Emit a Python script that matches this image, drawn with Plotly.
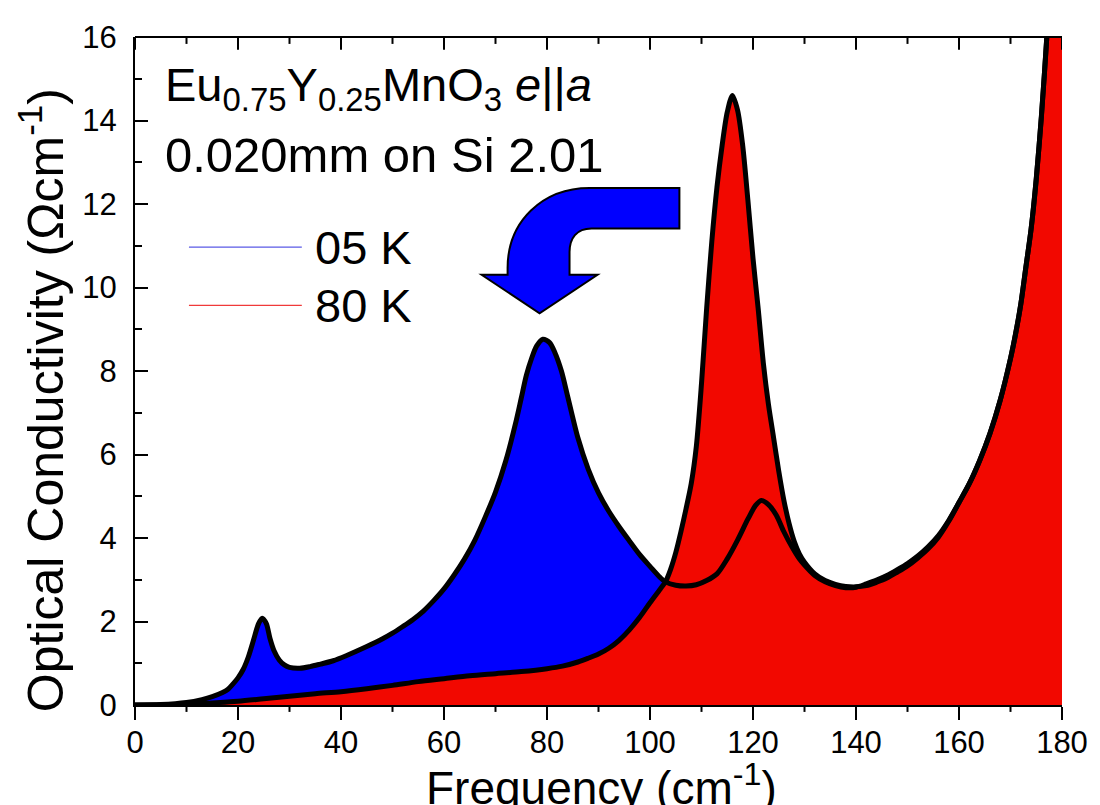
import plotly.graph_objects as go

# ---------------- data ----------------
freq_05K = [0, 5, 10, 13, 15, 17, 18, 19, 20, 21, 22, 23, 24, 24.7, 25.5, 26.2, 27, 28, 29, 30,
            32, 34, 36, 38.5, 41, 45, 48, 50, 52, 54, 56, 58, 60, 62, 64, 66, 68, 70, 72, 74,
            75, 76, 77, 78, 79.2, 80.5, 81.5, 82.8, 84, 86, 88, 90, 92, 94, 96, 98, 100, 102,
            103, 105, 107, 109, 111, 113, 115, 117, 119, 120.5, 121.6, 123, 124.5, 126, 127.5,
            129, 130, 132, 134, 136, 138, 140, 142, 144, 146, 148, 150, 152, 154, 156, 158, 160,
            162, 164, 166, 168, 170, 171, 172, 173, 174, 175, 176, 177, 178, 179, 180]
sigma_05K = [0.0, 0.01, 0.06, 0.13, 0.2, 0.3, 0.37, 0.5, 0.65, 0.85, 1.15, 1.55, 1.95, 2.08, 1.95,
             1.6, 1.3, 1.08, 0.96, 0.9, 0.88, 0.92, 0.98, 1.06, 1.18, 1.4, 1.58, 1.72, 1.88, 2.05,
             2.25, 2.5, 2.78, 3.12, 3.5, 3.95, 4.5, 5.1, 5.85, 6.8, 7.35, 7.9, 8.3, 8.6, 8.76,
             8.68, 8.45, 8.0, 7.4, 6.4, 5.65, 5.08, 4.64, 4.27, 3.93, 3.6, 3.32, 3.05, 2.95, 2.87,
             2.85, 2.88, 2.98, 3.14, 3.5, 3.95, 4.45, 4.78, 4.9, 4.8, 4.55, 4.15, 3.8, 3.5, 3.35,
             3.1, 2.95, 2.86, 2.81, 2.82, 2.9, 2.99, 3.1, 3.24, 3.39, 3.57, 3.79, 4.06, 4.42, 4.85,
             5.3, 5.85, 6.5, 7.3, 8.3, 8.9, 9.6, 10.5, 11.4, 12.6, 14.1, 15.9, 18.0, 20.5, 23.0]

freq_80K = [0, 10, 15, 20, 25, 30, 35, 40, 45, 50, 55, 60, 65, 70, 75, 80, 83, 86, 88, 90, 92, 94,
            96, 98, 100, 102, 103, 104, 105, 106, 107, 108, 109, 110, 111, 112, 113, 114, 115, 116,
            117, 118, 119, 120, 121, 122, 123, 124, 125, 126, 127, 128, 129, 130, 132, 134, 136,
            138, 140, 142, 144, 146, 148, 150, 152, 154, 156, 158, 160, 162, 164, 166, 168, 170,
            171, 172, 173, 174, 175, 176, 177, 178, 179, 180]
sigma_80K = [0.0, 0.02, 0.05, 0.09, 0.15, 0.21, 0.27, 0.32, 0.39, 0.47, 0.56, 0.63, 0.7, 0.75, 0.8,
             0.87, 0.93, 1.03, 1.12, 1.22, 1.36, 1.55, 1.8, 2.1, 2.45, 2.78, 2.95, 3.25, 3.65, 4.15,
             4.7, 5.3, 6.2, 7.7, 9.5, 11.1, 12.4, 13.4, 14.2, 14.6, 14.25, 13.4, 12.1, 10.7, 9.5,
             8.2, 7.2, 6.4, 5.6, 4.9, 4.35, 3.92, 3.62, 3.42, 3.14, 2.98, 2.89, 2.84, 2.83, 2.86,
             2.94, 3.04, 3.18, 3.33, 3.52, 3.74, 4.02, 4.4, 4.85, 5.3, 5.85, 6.5, 7.3, 8.3, 8.9,
             9.6, 10.5, 11.4, 12.6, 14.1, 15.9, 18.0, 20.5, 23.0]

series_names = ["05 K", "80 K"]
x_tick_vals = [0, 20, 40, 60, 80, 100, 120, 140, 160, 180]
x_minor_vals = [10, 30, 50, 70, 90, 110, 130, 150, 170]
y_tick_vals = [0, 2, 4, 6, 8, 10, 12, 14, 16]

# ---------------- styling ----------------
FONT = "Liberation Sans, Arial, Helvetica, sans-serif"
BLUE = "#0000FF"
RED = "#F20800"
OFF = 8                      # page body margin of the browser
W, H = 1100 - OFF, 805 - OFF
L, R, T, B = 135 - OFF, 37, 28 - OFF, 100
PW, PH = W - L - R, H - T - B


def px(xp):
    """screen x (reference pixels) -> paper x"""
    return (xp - OFF - L) / PW


def py(yp):
    """screen y (reference pixels) -> paper y"""
    return (H - B - (yp - OFF)) / PH


fig = go.Figure()

SPL = dict(shape="spline", smoothing=0.8)
# fills (blue under 05 K first, red under 80 K on top)
fig.add_trace(go.Scatter(x=freq_05K, y=sigma_05K, mode="lines", fill="tozeroy",
                         fillcolor=BLUE, line=dict(width=0, color=BLUE, **SPL),
                         showlegend=False, hoverinfo="skip"))
fig.add_trace(go.Scatter(x=freq_80K, y=sigma_80K, mode="lines", fill="tozeroy",
                         fillcolor=RED, line=dict(width=0, color=RED, **SPL),
                         showlegend=False, hoverinfo="skip"))
# black outlines drawn above both fills
for fx, fy, nm in [(freq_05K, sigma_05K, series_names[0]), (freq_80K, sigma_80K, series_names[1])]:
    fig.add_trace(go.Scatter(x=fx, y=fy, mode="lines", name=nm,
                             line=dict(width=5, color="black", **SPL),
                             showlegend=False))

axis_font = dict(family=FONT, size=31, color="black")

fig.update_layout(
    width=W, height=H,
    margin=dict(l=L, r=R, t=T, b=B, pad=0),
    paper_bgcolor="white", plot_bgcolor="white",
    showlegend=False,
    font=dict(family=FONT, color="black"),
    xaxis=dict(range=[0, 180], tickvals=x_tick_vals, ticks="outside", ticklen=13, tickwidth=2,
               tickcolor="black", showline=True, linecolor="black", linewidth=2,
               showgrid=False, zeroline=False, tickfont=axis_font, ticklabelstandoff=-4),
    yaxis=dict(range=[0, 16], tickvals=y_tick_vals, ticks="inside", ticklen=13, tickwidth=2,
               tickcolor="black", showline=True, linecolor="black", linewidth=2,
               showgrid=False, zeroline=False, tickfont=axis_font, ticklabelstandoff=10,
               minor=dict(ticks="inside", ticklen=7, tickwidth=2, tickcolor="black", dtick=1,
                          showgrid=False)),
)

shapes = []
# top frame line and its inward ticks; bottom minor (outward) ticks
shapes.append(dict(type="line", xref="paper", yref="paper", x0=0, x1=1, y0=1, y1=1,
                   line=dict(color="black", width=2), layer="above"))
for v in x_tick_vals:
    shapes.append(dict(type="line", xref="x", yref="paper", x0=v, x1=v, y0=1, y1=1 - 13 / PH,
                       line=dict(color="black", width=2), layer="above"))
for v in x_minor_vals:
    shapes.append(dict(type="line", xref="x", yref="paper", x0=v, x1=v, y0=1, y1=1 - 7 / PH,
                       line=dict(color="black", width=2), layer="above"))
    shapes.append(dict(type="line", xref="x", yref="paper", x0=v, x1=v, y0=0, y1=-7 / PH,
                       line=dict(color="black", width=2), layer="above"))

annotations = []
# axis titles
annotations.append(dict(text="Frequency (cm<sup>-1</sup>)", xref="paper", yref="paper",
                        x=px(602), y=py(786), xanchor="center", yanchor="middle",
                        showarrow=False, font=dict(family=FONT, size=46, color="black")))
annotations.append(dict(text="Optical Conductivity (\u03a9cm<sup>-1</sup>)", xref="paper",
                        yref="paper", x=px(42), y=py(396), xanchor="center", yanchor="middle",
                        textangle=-90, showarrow=False,
                        font=dict(family=FONT, size=50, color="black")))
# sample description
annotations.append(dict(text="Eu<sub>0.75</sub>Y<sub>0.25</sub>MnO<sub>3</sub> <i>e</i>||<i>a</i>",
                        xref="paper", yref="paper", x=px(163), y=py(80), xanchor="left",
                        yanchor="middle", showarrow=False,
                        font=dict(family=FONT, size=47, color="black")))
annotations.append(dict(text="0.020mm on Si 2.01", xref="paper", yref="paper", x=px(163),
                        y=py(148), xanchor="left", yanchor="middle", showarrow=False,
                        font=dict(family=FONT, size=49, color="black")))
# legend text and sample lines
legend_y = [241, 300]
legend_colors = ["#5a5ae6", "#f03a3a"]
for name, ly, lc in zip(series_names, legend_y, legend_colors):
    annotations.append(dict(text=name, xref="paper", yref="paper", x=px(313), y=py(ly),
                            xanchor="left", yanchor="middle", showarrow=False,
                            font=dict(family=FONT, size=47, color="black")))
    shapes.append(dict(type="line", xref="paper", yref="paper", x0=px(189), x1=px(302),
                       y0=py(ly), y1=py(ly), line=dict(color=lc, width=1.2)))


# curved blue arrow (annotation graphic)
def P(a, b):
    return f"{px(a):.5f},{py(b):.5f}"


arrow_path = (
    f"M {P(680, 181)} L {P(590, 181)} "
    f"C {P(543, 181)} {P(508, 215)} {P(508, 262)} "
    f"L {P(508, 269)} L {P(482, 269)} L {P(540, 308)} L {P(598, 269)} L {P(570, 269)} "
    f"L {P(570, 246)} C {P(570, 232)} {P(577, 222)} {P(592, 222)} "
    f"L {P(680, 222)} Z"
)
shapes.append(dict(type="path", xref="paper", yref="paper", path=arrow_path,
                   fillcolor=BLUE, line=dict(color="black", width=2), layer="above"))

fig.update_layout(annotations=annotations, shapes=shapes)

fig.write_html("out.html")
